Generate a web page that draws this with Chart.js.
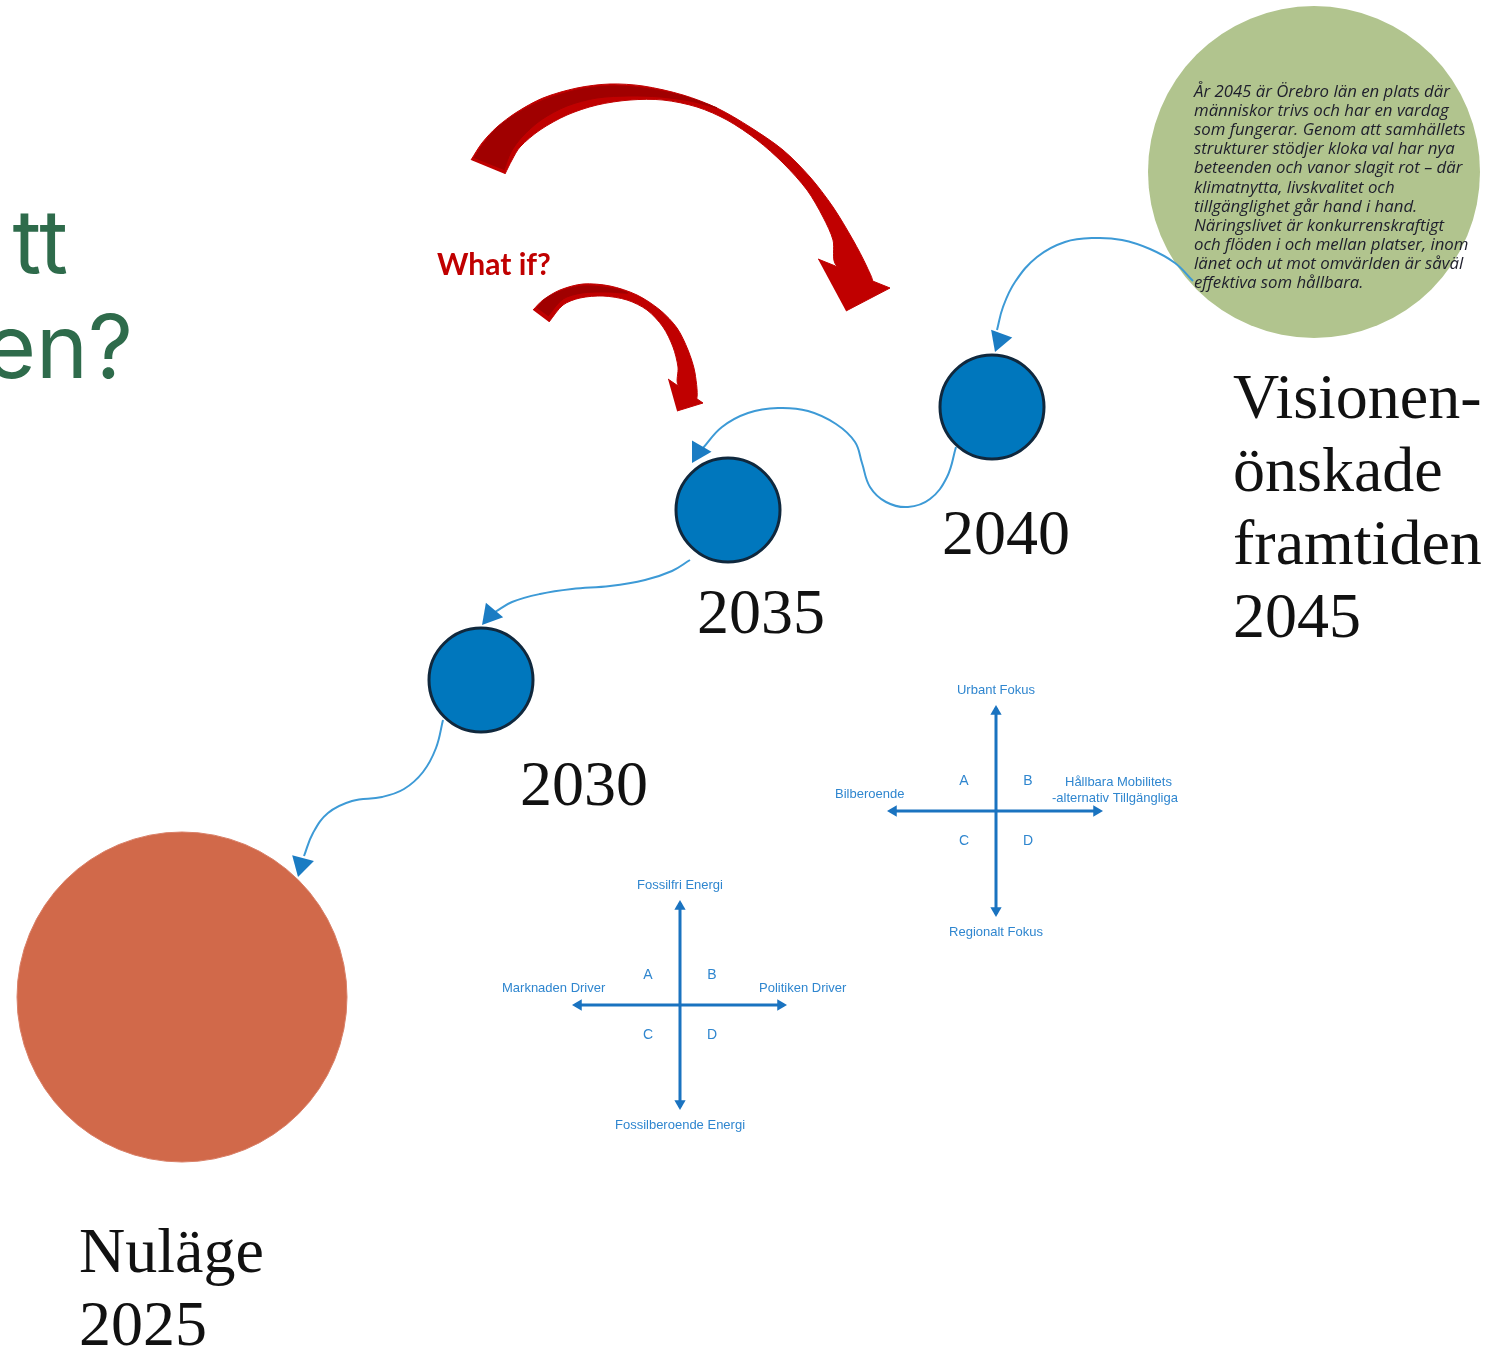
<!DOCTYPE html>
<html>
<head>
<meta charset="utf-8">
<script src="https://cdn.jsdelivr.net/npm/chart.js@4.4.1/dist/chart.umd.min.js"></script>
<style>
  html, body { margin: 0; padding: 0; background: #fff; overflow: hidden; }
  #wrap { width: 1493px; height: 1351px; }
</style>
</head>
<body>
<div id="wrap"><canvas id="myChart" width="1493" height="1351"></canvas></div>
<script>
// diagram space = 1493 x 1351 units, y grows downward

// stages on the road to the vision
var milestoneYears = ["2030", "2035", "2040"];
var milestoneX = [481, 728, 992];
var milestoneY = [680, 510, 407];
var visionX = [1314], visionY = [172];
var currentX = [182], currentY = [997];

// blue connectors (vision -> 2040 -> 2035 -> 2030 -> nuläge)
var pathVisionX = [1193, 1175, 1150, 1122, 1095, 1065, 1037, 1015, 1003, 997];
var pathVisionY = [281, 263, 249, 240, 238, 242, 257, 282, 307, 330];
var path2040X = [956, 947, 930, 908, 886, 870, 862, 855, 836, 808, 778, 748, 722, 703];
var path2040Y = [447, 477, 499, 507, 502, 487, 463, 442, 424, 411, 408, 413, 427, 448];
var path2035X = [690, 672, 645, 610, 572, 540, 512, 495];
var path2035Y = [560, 571, 580, 586, 589, 594, 602, 612];
var path2030X = [443, 436, 423, 404, 382, 352, 328, 313, 304];
var path2030Y = [720, 748, 772, 789, 797, 801, 813, 833, 856];
var arrowTipX = [995, 692, 482, 298];
var arrowTipY = [352, 463, 625, 877];
var arrowAngle = [200, 210, 220, 195];

// red "what if" arrows: shaft outline, head, darker back side
var bigShaftX = [471, 482, 497, 517, 543, 577, 610, 643, 683, 717, 750, 783, 810, 833, 853, 867, 872,
  836, 833, 823, 807, 783, 757, 727, 697, 663, 630, 597, 567, 540, 520, 512, 505];
var bigShaftY = [160, 143, 127, 112, 98, 88, 84, 86, 95, 108, 127, 150, 177, 207, 240, 267, 282,
  265, 240, 217, 190, 163, 140, 120, 107, 100, 100, 105, 115, 130, 147, 160, 174];
var bigHeadX = [818, 890, 846];
var bigHeadY = [259, 288, 311];
var bigShadeX = [474, 484, 498, 518, 544, 577, 610, 643, 683, 717, 690, 660, 630, 597, 567, 541, 522, 511, 504];
var bigShadeY = [158, 143, 127, 113, 100, 90, 86, 88, 96, 108, 101, 97, 96, 98, 106, 120, 137, 152, 170];
var smallShaftX = [533, 543, 560, 583, 610, 637, 660, 677, 688, 695, 696,
  678, 678, 673, 663, 647, 627, 603, 580, 563, 549];
var smallShaftY = [310, 300, 290, 284, 286, 295, 310, 328, 350, 373, 400,
  385, 367, 347, 327, 310, 300, 296, 298, 305, 322];
var smallHeadX = [668, 703, 677];
var smallHeadY = [379, 403, 411];
var smallShadeX = [537, 545, 561, 583, 610, 628, 606, 582, 563, 548];
var smallShadeY = [308, 299, 291, 286, 288, 293, 292, 293, 299, 316];

// the two scenario crosses
var mobilityCross = { cx: 996, cy: 811, left: 887, right: 1103, top: 705, bottom: 917 };
var energyCross = { cx: 680, cy: 1005, left: 572, right: 787, top: 900, bottom: 1110 };
var mobilityLabels = ["Urbant Fokus", "Regionalt Fokus", "Bilberoende", "Hållbara Mobilitets", "-alternativ Tillgängliga"];
var energyLabels = ["Fossilfri Energi", "Fossilberoende Energi", "Marknaden Driver", "Politiken Driver"];
var quadrantLetters = ["A", "B", "C", "D"];

var visionTitle = ["Visionen-", "önskade", "framtiden", "2045"];
var currentTitle = ["Nuläge", "2025"];
var questionText = ["tt", "en?"];
var visionText = [
  "År 2045 är Örebro län en plats där",
  "människor trivs och har en vardag",
  "som fungerar. Genom att samhällets",
  "strukturer stödjer kloka val har nya",
  "beteenden och vanor slagit rot – där",
  "klimatnytta, livskvalitet och",
  "tillgänglighet går hand i hand.",
  "Näringslivet är konkurrenskraftigt",
  "och flöden i och mellan platser, inom",
  "länet och ut mot omvärlden är såväl",
  "effektiva som hållbara."
];

function pts(xs, ys) {
  return xs.map(function (x, i) { return { x: x, y: ys[i] }; });
}

var connectorColor = "#3d9ad6";
var headColor = "#1b7cc3";
var crossColor = "#1a73c0";
var crossText = "#2f86cf";

function connector(xs, ys) {
  return {
    data: pts(xs, ys), borderColor: connectorColor, borderWidth: 2, tension: 0.4,
    pointRadius: 0, fill: false, order: 1
  };
}
function shape(xs, ys, color, order, tension) {
  return {
    data: pts(xs, ys), borderColor: color, backgroundColor: color, borderWidth: 1,
    tension: tension, pointRadius: 0, fill: "shape", order: order
  };
}

// arrow heads: put the triangle centre one radius behind the tip
var headR = 13;
var headPoints = arrowTipX.map(function (x, i) {
  var a = arrowAngle[i] * Math.PI / 180;
  return { x: x - Math.sin(a) * headR, y: arrowTipY[i] + Math.cos(a) * headR };
});

function crossSets(c) {
  var r = 6.5;
  return [
    { data: [{ x: c.left + 3, y: c.cy }, { x: c.right - 3, y: c.cy }], borderColor: crossColor, borderWidth: 3, pointRadius: 0, order: 2 },
    { data: [{ x: c.cx, y: c.top + 3 }, { x: c.cx, y: c.bottom - 3 }], borderColor: crossColor, borderWidth: 3, pointRadius: 0, order: 2 },
    {
      data: [{ x: c.cx, y: c.top + r }, { x: c.right - r, y: c.cy }, { x: c.cx, y: c.bottom - r }, { x: c.left + r, y: c.cy }],
      showLine: false, pointStyle: "triangle", pointRadius: r, pointRotation: [0, 90, 180, 270],
      pointBackgroundColor: crossColor, pointBorderWidth: 0, order: 1
    }
  ];
}

var serif = "64px 'Liberation Serif'";
var green = "#2e6b4b";
var texts = [
  { lines: [questionText[0]], x: 68, y: 273, font: "400 88px Inter", color: green, align: "right" },
  { lines: [questionText[1]], x: 133, y: 378, font: "400 88px Inter", color: green, align: "right" },
  { lines: ["What if?"], x: 437, y: 275, font: "bold 30px Lato", color: "#c00000" },
  { lines: visionText, x: 1194, y: 97, lh: 19.1, font: "italic 16.8px 'Open Sans'", color: "#1e1e2c" },
  { lines: visionTitle, x: 1233, y: 418, lh: 73, font: serif, color: "#111" },
  { lines: currentTitle, x: 79, y: 1272, lh: 73, font: serif, color: "#111" },
  { lines: [milestoneYears[2]], x: 942, y: 554, font: serif, color: "#111" },
  { lines: [milestoneYears[1]], x: 697, y: 633, font: serif, color: "#111" },
  { lines: [milestoneYears[0]], x: 520, y: 805, font: serif, color: "#111" }
];

var f13 = "13px 'Liberation Sans'";
function crossTexts(c, labels, dx, dy) {
  var list = [
    { lines: [labels[0]], x: c.cx, y: c.top - 15, font: f13, color: crossText, align: "center", base: "middle" },
    { lines: [labels[1]], x: c.cx, y: c.bottom + 15, font: f13, color: crossText, align: "center", base: "middle" }
  ];
  quadrantLetters.forEach(function (l, i) {
    list.push({
      lines: [l], x: c.cx + (i % 2 ? dx : -dx), y: c.cy + (i < 2 ? -dy : dy),
      font: "14px 'Liberation Sans'", color: crossText, align: "center", base: "middle"
    });
  });
  return list;
}
texts = texts.concat(crossTexts(mobilityCross, mobilityLabels, 32, 30));
texts = texts.concat(crossTexts(energyCross, energyLabels, 32, 30));
texts.push({ lines: [mobilityLabels[2]], x: 835, y: 794, font: f13, color: crossText, base: "middle" });
texts.push({ lines: [mobilityLabels[3]], x: 1065, y: 782, font: f13, color: crossText, base: "middle" });
texts.push({ lines: [mobilityLabels[4]], x: 1052, y: 798, font: f13, color: crossText, base: "middle" });
texts.push({ lines: [energyLabels[2]], x: 502, y: 988, font: f13, color: crossText, base: "middle" });
texts.push({ lines: [energyLabels[3]], x: 759, y: 988, font: f13, color: crossText, base: "middle" });

var textPlugin = {
  id: "diagramText",
  afterDatasetsDraw: function (chart) {
    var ctx = chart.ctx;
    var sx = chart.scales.x, sy = chart.scales.y;
    texts.forEach(function (t) {
      ctx.save();
      ctx.font = t.font;
      ctx.fillStyle = t.color;
      ctx.textAlign = t.align || "left";
      ctx.textBaseline = t.base || "alphabetic";
      t.lines.forEach(function (line, i) {
        ctx.fillText(line, sx.getPixelForValue(t.x), sy.getPixelForValue(t.y + i * (t.lh || 0)));
      });
      ctx.restore();
    });
  }
};

var datasets = [
  { data: pts(visionX, visionY), showLine: false, pointRadius: 166, pointBackgroundColor: "#b1c48e", pointBorderWidth: 0, order: 4 },
  { data: pts(currentX, currentY), showLine: false, pointRadius: 165, pointBackgroundColor: "#d1694a", pointBorderColor: "#d98068", pointBorderWidth: 1, order: 4 },
  { data: pts(milestoneX, milestoneY), showLine: false, pointRadius: 52, pointBackgroundColor: "#0077bd", pointBorderColor: "#10283d", pointBorderWidth: 3, order: 3 },
  connector(pathVisionX, pathVisionY),
  connector(path2040X, path2040Y),
  connector(path2035X, path2035Y),
  connector(path2030X, path2030Y),
  { data: headPoints, showLine: false, pointStyle: "triangle", pointRadius: headR, pointRotation: arrowAngle,
    pointBackgroundColor: headColor, pointBorderWidth: 0, order: 0 },
  shape(bigShaftX, bigShaftY, "#c00000", 2, 0.3),
  shape(bigHeadX, bigHeadY, "#c00000", 2, 0),
  shape(bigShadeX, bigShadeY, "#a00000", 1.5, 0.3),
  shape(smallShaftX, smallShaftY, "#c00000", 2, 0.3),
  shape(smallHeadX, smallHeadY, "#c00000", 2, 0),
  shape(smallShadeX, smallShadeY, "#a00000", 1.5, 0.3)
].concat(crossSets(mobilityCross), crossSets(energyCross));

var ctx = document.getElementById("myChart").getContext("2d");
var myChart = new Chart(ctx, {
  type: "line",
  data: { datasets: datasets },
  options: {
    responsive: false,
    animation: false,
    events: [],
    clip: false,
    layout: { padding: 0, autoPadding: false },
    plugins: { legend: { display: false }, tooltip: { enabled: false } },
    scales: {
      x: { type: "linear", min: 0, max: 1493, display: false },
      y: { type: "linear", min: 0, max: 1351, reverse: true, display: false }
    }
  },
  plugins: [textPlugin]
});
</script>
</body>
</html>
